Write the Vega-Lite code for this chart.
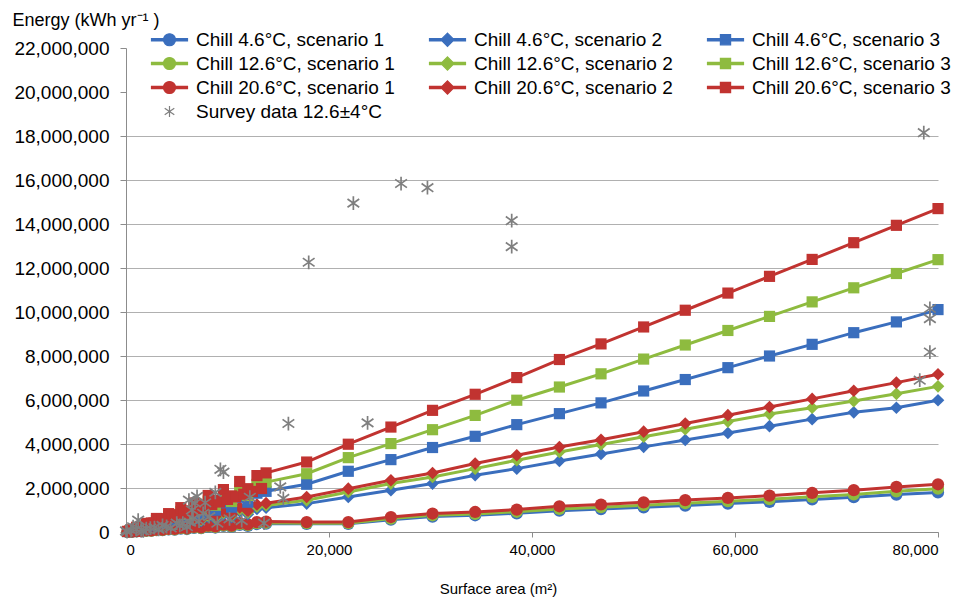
{
  "$schema": "https://vega.github.io/schema/vega-lite/v6.json",
  "width": 812,
  "height": 484,
  "autosize": {"type": "none"},
  "padding": {"left": 126, "top": 48, "right": 33, "bottom": 68},
  "background": "white",
  "config": {
    "view": {"stroke": null},
    "font": "Liberation Sans"
  },
  "datasets": {
    "curves": [
      {"s":"Chill 4.6°C, scenario 1","x":150,"y":3915},{"s":"Chill 4.6°C, scenario 1","x":600,"y":13920},{"s":"Chill 4.6°C, scenario 1","x":1050,"y":30450},{"s":"Chill 4.6°C, scenario 1","x":1500,"y":33930},{"s":"Chill 4.6°C, scenario 1","x":2000,"y":55100},{"s":"Chill 4.6°C, scenario 1","x":2500,"y":58000},{"s":"Chill 4.6°C, scenario 1","x":3000,"y":87000},{"s":"Chill 4.6°C, scenario 1","x":3600,"y":85608},{"s":"Chill 4.6°C, scenario 1","x":4200,"y":118146},{"s":"Chill 4.6°C, scenario 1","x":4800,"y":111360},{"s":"Chill 4.6°C, scenario 1","x":5400,"y":156600},{"s":"Chill 4.6°C, scenario 1","x":6000,"y":135720},{"s":"Chill 4.6°C, scenario 1","x":6700,"y":186528},{"s":"Chill 4.6°C, scenario 1","x":7400,"y":171680},{"s":"Chill 4.6°C, scenario 1","x":8100,"y":234900},{"s":"Chill 4.6°C, scenario 1","x":8800,"y":204160},{"s":"Chill 4.6°C, scenario 1","x":9600,"y":272832},{"s":"Chill 4.6°C, scenario 1","x":10400,"y":232232},{"s":"Chill 4.6°C, scenario 1","x":11200,"y":324800},{"s":"Chill 4.6°C, scenario 1","x":12000,"y":278400},{"s":"Chill 4.6°C, scenario 1","x":12900,"y":362877},{"s":"Chill 4.6°C, scenario 1","x":13800,"y":380190},
      {"s":"Chill 4.6°C, scenario 1","x":17800,"y":370000},{"s":"Chill 4.6°C, scenario 1","x":21900,"y":370000},{"s":"Chill 4.6°C, scenario 1","x":26100,"y":560000},{"s":"Chill 4.6°C, scenario 1","x":30200,"y":700000},{"s":"Chill 4.6°C, scenario 1","x":34400,"y":760000},{"s":"Chill 4.6°C, scenario 1","x":38500,"y":850000},{"s":"Chill 4.6°C, scenario 1","x":42700,"y":970000},{"s":"Chill 4.6°C, scenario 1","x":46800,"y":1040000},{"s":"Chill 4.6°C, scenario 1","x":51000,"y":1120000},{"s":"Chill 4.6°C, scenario 1","x":55100,"y":1200000},{"s":"Chill 4.6°C, scenario 1","x":59300,"y":1290000},{"s":"Chill 4.6°C, scenario 1","x":63400,"y":1370000},{"s":"Chill 4.6°C, scenario 1","x":67600,"y":1480000},{"s":"Chill 4.6°C, scenario 1","x":71700,"y":1580000},{"s":"Chill 4.6°C, scenario 1","x":75900,"y":1700000},{"s":"Chill 4.6°C, scenario 1","x":80000,"y":1800000},

      {"s":"Chill 12.6°C, scenario 1","x":150,"y":4320},{"s":"Chill 12.6°C, scenario 1","x":600,"y":15360},{"s":"Chill 12.6°C, scenario 1","x":1050,"y":33600},{"s":"Chill 12.6°C, scenario 1","x":1500,"y":37440},{"s":"Chill 12.6°C, scenario 1","x":2000,"y":60800},{"s":"Chill 12.6°C, scenario 1","x":2500,"y":64000},{"s":"Chill 12.6°C, scenario 1","x":3000,"y":96000},{"s":"Chill 12.6°C, scenario 1","x":3600,"y":94464},{"s":"Chill 12.6°C, scenario 1","x":4200,"y":130368},{"s":"Chill 12.6°C, scenario 1","x":4800,"y":122880},{"s":"Chill 12.6°C, scenario 1","x":5400,"y":172800},{"s":"Chill 12.6°C, scenario 1","x":6000,"y":149760},{"s":"Chill 12.6°C, scenario 1","x":6700,"y":205824},{"s":"Chill 12.6°C, scenario 1","x":7400,"y":189440},{"s":"Chill 12.6°C, scenario 1","x":8100,"y":259200},{"s":"Chill 12.6°C, scenario 1","x":8800,"y":225280},{"s":"Chill 12.6°C, scenario 1","x":9600,"y":301056},{"s":"Chill 12.6°C, scenario 1","x":10400,"y":256256},{"s":"Chill 12.6°C, scenario 1","x":11200,"y":358400},{"s":"Chill 12.6°C, scenario 1","x":12000,"y":307200},{"s":"Chill 12.6°C, scenario 1","x":12900,"y":400416},{"s":"Chill 12.6°C, scenario 1","x":13800,"y":419520},
      {"s":"Chill 12.6°C, scenario 1","x":17800,"y":400000},{"s":"Chill 12.6°C, scenario 1","x":21900,"y":400000},{"s":"Chill 12.6°C, scenario 1","x":26100,"y":610000},{"s":"Chill 12.6°C, scenario 1","x":30200,"y":760000},{"s":"Chill 12.6°C, scenario 1","x":34400,"y":820000},{"s":"Chill 12.6°C, scenario 1","x":38500,"y":920000},{"s":"Chill 12.6°C, scenario 1","x":42700,"y":1050000},{"s":"Chill 12.6°C, scenario 1","x":46800,"y":1130000},{"s":"Chill 12.6°C, scenario 1","x":51000,"y":1220000},{"s":"Chill 12.6°C, scenario 1","x":55100,"y":1310000},{"s":"Chill 12.6°C, scenario 1","x":59300,"y":1400000},{"s":"Chill 12.6°C, scenario 1","x":63400,"y":1490000},{"s":"Chill 12.6°C, scenario 1","x":67600,"y":1600000},{"s":"Chill 12.6°C, scenario 1","x":71700,"y":1710000},{"s":"Chill 12.6°C, scenario 1","x":75900,"y":1850000},{"s":"Chill 12.6°C, scenario 1","x":80000,"y":1970000},

      {"s":"Chill 20.6°C, scenario 1","x":150,"y":4860},{"s":"Chill 20.6°C, scenario 1","x":600,"y":17280},{"s":"Chill 20.6°C, scenario 1","x":1050,"y":37800},{"s":"Chill 20.6°C, scenario 1","x":1500,"y":42120},{"s":"Chill 20.6°C, scenario 1","x":2000,"y":68400},{"s":"Chill 20.6°C, scenario 1","x":2500,"y":72000},{"s":"Chill 20.6°C, scenario 1","x":3000,"y":108000},{"s":"Chill 20.6°C, scenario 1","x":3600,"y":106272},{"s":"Chill 20.6°C, scenario 1","x":4200,"y":146664},{"s":"Chill 20.6°C, scenario 1","x":4800,"y":138240},{"s":"Chill 20.6°C, scenario 1","x":5400,"y":194400},{"s":"Chill 20.6°C, scenario 1","x":6000,"y":168480},{"s":"Chill 20.6°C, scenario 1","x":6700,"y":231552},{"s":"Chill 20.6°C, scenario 1","x":7400,"y":213120},{"s":"Chill 20.6°C, scenario 1","x":8100,"y":291600},{"s":"Chill 20.6°C, scenario 1","x":8800,"y":253440},{"s":"Chill 20.6°C, scenario 1","x":9600,"y":338688},{"s":"Chill 20.6°C, scenario 1","x":10400,"y":288288},{"s":"Chill 20.6°C, scenario 1","x":11200,"y":403200},{"s":"Chill 20.6°C, scenario 1","x":12000,"y":345600},{"s":"Chill 20.6°C, scenario 1","x":12900,"y":450468},{"s":"Chill 20.6°C, scenario 1","x":13800,"y":471960},
      {"s":"Chill 20.6°C, scenario 1","x":17800,"y":450000},{"s":"Chill 20.6°C, scenario 1","x":21900,"y":450000},{"s":"Chill 20.6°C, scenario 1","x":26100,"y":680000},{"s":"Chill 20.6°C, scenario 1","x":30200,"y":840000},{"s":"Chill 20.6°C, scenario 1","x":34400,"y":910000},{"s":"Chill 20.6°C, scenario 1","x":38500,"y":1020000},{"s":"Chill 20.6°C, scenario 1","x":42700,"y":1170000},{"s":"Chill 20.6°C, scenario 1","x":46800,"y":1250000},{"s":"Chill 20.6°C, scenario 1","x":51000,"y":1350000},{"s":"Chill 20.6°C, scenario 1","x":55100,"y":1450000},{"s":"Chill 20.6°C, scenario 1","x":59300,"y":1550000},{"s":"Chill 20.6°C, scenario 1","x":63400,"y":1650000},{"s":"Chill 20.6°C, scenario 1","x":67600,"y":1780000},{"s":"Chill 20.6°C, scenario 1","x":71700,"y":1900000},{"s":"Chill 20.6°C, scenario 1","x":75900,"y":2050000},{"s":"Chill 20.6°C, scenario 1","x":80000,"y":2170000},

      {"s":"Chill 4.6°C, scenario 2","x":150,"y":11340},{"s":"Chill 4.6°C, scenario 2","x":600,"y":40320},{"s":"Chill 4.6°C, scenario 2","x":1050,"y":88200},{"s":"Chill 4.6°C, scenario 2","x":1500,"y":98280},{"s":"Chill 4.6°C, scenario 2","x":2000,"y":159600},{"s":"Chill 4.6°C, scenario 2","x":2500,"y":168000},{"s":"Chill 4.6°C, scenario 2","x":3000,"y":252000},{"s":"Chill 4.6°C, scenario 2","x":3600,"y":247968},{"s":"Chill 4.6°C, scenario 2","x":4200,"y":342216},{"s":"Chill 4.6°C, scenario 2","x":4800,"y":322560},{"s":"Chill 4.6°C, scenario 2","x":5400,"y":453600},{"s":"Chill 4.6°C, scenario 2","x":6000,"y":393120},{"s":"Chill 4.6°C, scenario 2","x":6700,"y":540288},{"s":"Chill 4.6°C, scenario 2","x":7400,"y":497280},{"s":"Chill 4.6°C, scenario 2","x":8100,"y":680400},{"s":"Chill 4.6°C, scenario 2","x":8800,"y":591360},{"s":"Chill 4.6°C, scenario 2","x":9600,"y":790272},{"s":"Chill 4.6°C, scenario 2","x":10400,"y":672672},{"s":"Chill 4.6°C, scenario 2","x":11200,"y":940800},{"s":"Chill 4.6°C, scenario 2","x":12000,"y":806400},{"s":"Chill 4.6°C, scenario 2","x":12900,"y":1051092},{"s":"Chill 4.6°C, scenario 2","x":13800,"y":1101240},
      {"s":"Chill 4.6°C, scenario 2","x":17800,"y":1290000},{"s":"Chill 4.6°C, scenario 2","x":21900,"y":1590000},{"s":"Chill 4.6°C, scenario 2","x":26100,"y":1900000},{"s":"Chill 4.6°C, scenario 2","x":30200,"y":2200000},{"s":"Chill 4.6°C, scenario 2","x":34400,"y":2580000},{"s":"Chill 4.6°C, scenario 2","x":38500,"y":2880000},{"s":"Chill 4.6°C, scenario 2","x":42700,"y":3230000},{"s":"Chill 4.6°C, scenario 2","x":46800,"y":3550000},{"s":"Chill 4.6°C, scenario 2","x":51000,"y":3870000},{"s":"Chill 4.6°C, scenario 2","x":55100,"y":4180000},{"s":"Chill 4.6°C, scenario 2","x":59300,"y":4500000},{"s":"Chill 4.6°C, scenario 2","x":63400,"y":4810000},{"s":"Chill 4.6°C, scenario 2","x":67600,"y":5130000},{"s":"Chill 4.6°C, scenario 2","x":71700,"y":5440000},{"s":"Chill 4.6°C, scenario 2","x":75900,"y":5650000},{"s":"Chill 4.6°C, scenario 2","x":80000,"y":5990000},

      {"s":"Chill 12.6°C, scenario 2","x":150,"y":12420},{"s":"Chill 12.6°C, scenario 2","x":600,"y":44160},{"s":"Chill 12.6°C, scenario 2","x":1050,"y":96600},{"s":"Chill 12.6°C, scenario 2","x":1500,"y":107640},{"s":"Chill 12.6°C, scenario 2","x":2000,"y":174800},{"s":"Chill 12.6°C, scenario 2","x":2500,"y":184000},{"s":"Chill 12.6°C, scenario 2","x":3000,"y":276000},{"s":"Chill 12.6°C, scenario 2","x":3600,"y":271584},{"s":"Chill 12.6°C, scenario 2","x":4200,"y":374808},{"s":"Chill 12.6°C, scenario 2","x":4800,"y":353280},{"s":"Chill 12.6°C, scenario 2","x":5400,"y":496800},{"s":"Chill 12.6°C, scenario 2","x":6000,"y":430560},{"s":"Chill 12.6°C, scenario 2","x":6700,"y":591744},{"s":"Chill 12.6°C, scenario 2","x":7400,"y":544640},{"s":"Chill 12.6°C, scenario 2","x":8100,"y":745200},{"s":"Chill 12.6°C, scenario 2","x":8800,"y":647680},{"s":"Chill 12.6°C, scenario 2","x":9600,"y":865536},{"s":"Chill 12.6°C, scenario 2","x":10400,"y":736736},{"s":"Chill 12.6°C, scenario 2","x":11200,"y":1030400},{"s":"Chill 12.6°C, scenario 2","x":12000,"y":883200},{"s":"Chill 12.6°C, scenario 2","x":12900,"y":1151196},{"s":"Chill 12.6°C, scenario 2","x":13800,"y":1206120},
      {"s":"Chill 12.6°C, scenario 2","x":17800,"y":1440000},{"s":"Chill 12.6°C, scenario 2","x":21900,"y":1820000},{"s":"Chill 12.6°C, scenario 2","x":26100,"y":2200000},{"s":"Chill 12.6°C, scenario 2","x":30200,"y":2500000},{"s":"Chill 12.6°C, scenario 2","x":34400,"y":2880000},{"s":"Chill 12.6°C, scenario 2","x":38500,"y":3260000},{"s":"Chill 12.6°C, scenario 2","x":42700,"y":3640000},{"s":"Chill 12.6°C, scenario 2","x":46800,"y":3980000},{"s":"Chill 12.6°C, scenario 2","x":51000,"y":4330000},{"s":"Chill 12.6°C, scenario 2","x":55100,"y":4670000},{"s":"Chill 12.6°C, scenario 2","x":59300,"y":5020000},{"s":"Chill 12.6°C, scenario 2","x":63400,"y":5360000},{"s":"Chill 12.6°C, scenario 2","x":67600,"y":5650000},{"s":"Chill 12.6°C, scenario 2","x":71700,"y":5950000},{"s":"Chill 12.6°C, scenario 2","x":75900,"y":6280000},{"s":"Chill 12.6°C, scenario 2","x":80000,"y":6620000},

      {"s":"Chill 20.6°C, scenario 2","x":150,"y":13500},{"s":"Chill 20.6°C, scenario 2","x":600,"y":48000},{"s":"Chill 20.6°C, scenario 2","x":1050,"y":105000},{"s":"Chill 20.6°C, scenario 2","x":1500,"y":117000},{"s":"Chill 20.6°C, scenario 2","x":2000,"y":190000},{"s":"Chill 20.6°C, scenario 2","x":2500,"y":200000},{"s":"Chill 20.6°C, scenario 2","x":3000,"y":300000},{"s":"Chill 20.6°C, scenario 2","x":3600,"y":295200},{"s":"Chill 20.6°C, scenario 2","x":4200,"y":407400},{"s":"Chill 20.6°C, scenario 2","x":4800,"y":384000},{"s":"Chill 20.6°C, scenario 2","x":5400,"y":540000},{"s":"Chill 20.6°C, scenario 2","x":6000,"y":468000},{"s":"Chill 20.6°C, scenario 2","x":6700,"y":643200},{"s":"Chill 20.6°C, scenario 2","x":7400,"y":592000},{"s":"Chill 20.6°C, scenario 2","x":8100,"y":810000},{"s":"Chill 20.6°C, scenario 2","x":8800,"y":704000},{"s":"Chill 20.6°C, scenario 2","x":9600,"y":940800},{"s":"Chill 20.6°C, scenario 2","x":10400,"y":800800},{"s":"Chill 20.6°C, scenario 2","x":11200,"y":1120000},{"s":"Chill 20.6°C, scenario 2","x":12000,"y":960000},{"s":"Chill 20.6°C, scenario 2","x":12900,"y":1251300},{"s":"Chill 20.6°C, scenario 2","x":13800,"y":1311000},
      {"s":"Chill 20.6°C, scenario 2","x":17800,"y":1590000},{"s":"Chill 20.6°C, scenario 2","x":21900,"y":1970000},{"s":"Chill 20.6°C, scenario 2","x":26100,"y":2350000},{"s":"Chill 20.6°C, scenario 2","x":30200,"y":2680000},{"s":"Chill 20.6°C, scenario 2","x":34400,"y":3110000},{"s":"Chill 20.6°C, scenario 2","x":38500,"y":3490000},{"s":"Chill 20.6°C, scenario 2","x":42700,"y":3860000},{"s":"Chill 20.6°C, scenario 2","x":46800,"y":4190000},{"s":"Chill 20.6°C, scenario 2","x":51000,"y":4560000},{"s":"Chill 20.6°C, scenario 2","x":55100,"y":4930000},{"s":"Chill 20.6°C, scenario 2","x":59300,"y":5310000},{"s":"Chill 20.6°C, scenario 2","x":63400,"y":5680000},{"s":"Chill 20.6°C, scenario 2","x":67600,"y":6050000},{"s":"Chill 20.6°C, scenario 2","x":71700,"y":6420000},{"s":"Chill 20.6°C, scenario 2","x":75900,"y":6790000},{"s":"Chill 20.6°C, scenario 2","x":80000,"y":7170000},

      {"s":"Chill 4.6°C, scenario 3","x":150,"y":19035},{"s":"Chill 4.6°C, scenario 3","x":600,"y":67680},{"s":"Chill 4.6°C, scenario 3","x":1050,"y":148050},{"s":"Chill 4.6°C, scenario 3","x":1500,"y":164970},{"s":"Chill 4.6°C, scenario 3","x":2000,"y":267900},{"s":"Chill 4.6°C, scenario 3","x":2500,"y":282000},{"s":"Chill 4.6°C, scenario 3","x":3000,"y":423000},{"s":"Chill 4.6°C, scenario 3","x":3600,"y":416232},{"s":"Chill 4.6°C, scenario 3","x":4200,"y":574434},{"s":"Chill 4.6°C, scenario 3","x":4800,"y":541440},{"s":"Chill 4.6°C, scenario 3","x":5400,"y":761400},{"s":"Chill 4.6°C, scenario 3","x":6000,"y":659880},{"s":"Chill 4.6°C, scenario 3","x":6700,"y":906912},{"s":"Chill 4.6°C, scenario 3","x":7400,"y":834720},{"s":"Chill 4.6°C, scenario 3","x":8100,"y":1142100},{"s":"Chill 4.6°C, scenario 3","x":8800,"y":992640},{"s":"Chill 4.6°C, scenario 3","x":9600,"y":1326528},{"s":"Chill 4.6°C, scenario 3","x":10400,"y":1129128},{"s":"Chill 4.6°C, scenario 3","x":11200,"y":1579200},{"s":"Chill 4.6°C, scenario 3","x":12000,"y":1353600},{"s":"Chill 4.6°C, scenario 3","x":12900,"y":1764333},{"s":"Chill 4.6°C, scenario 3","x":13800,"y":1848510},
      {"s":"Chill 4.6°C, scenario 3","x":17800,"y":2170000},{"s":"Chill 4.6°C, scenario 3","x":21900,"y":2760000},{"s":"Chill 4.6°C, scenario 3","x":26100,"y":3290000},{"s":"Chill 4.6°C, scenario 3","x":30200,"y":3840000},{"s":"Chill 4.6°C, scenario 3","x":34400,"y":4350000},{"s":"Chill 4.6°C, scenario 3","x":38500,"y":4880000},{"s":"Chill 4.6°C, scenario 3","x":42700,"y":5380000},{"s":"Chill 4.6°C, scenario 3","x":46800,"y":5870000},{"s":"Chill 4.6°C, scenario 3","x":51000,"y":6410000},{"s":"Chill 4.6°C, scenario 3","x":55100,"y":6930000},{"s":"Chill 4.6°C, scenario 3","x":59300,"y":7470000},{"s":"Chill 4.6°C, scenario 3","x":63400,"y":8000000},{"s":"Chill 4.6°C, scenario 3","x":67600,"y":8530000},{"s":"Chill 4.6°C, scenario 3","x":71700,"y":9060000},{"s":"Chill 4.6°C, scenario 3","x":75900,"y":9550000},{"s":"Chill 4.6°C, scenario 3","x":80000,"y":10110000},

      {"s":"Chill 12.6°C, scenario 3","x":150,"y":23355},{"s":"Chill 12.6°C, scenario 3","x":600,"y":83040},{"s":"Chill 12.6°C, scenario 3","x":1050,"y":181650},{"s":"Chill 12.6°C, scenario 3","x":1500,"y":202410},{"s":"Chill 12.6°C, scenario 3","x":2000,"y":328700},{"s":"Chill 12.6°C, scenario 3","x":2500,"y":346000},{"s":"Chill 12.6°C, scenario 3","x":3000,"y":519000},{"s":"Chill 12.6°C, scenario 3","x":3600,"y":510696},{"s":"Chill 12.6°C, scenario 3","x":4200,"y":704802},{"s":"Chill 12.6°C, scenario 3","x":4800,"y":664320},{"s":"Chill 12.6°C, scenario 3","x":5400,"y":934200},{"s":"Chill 12.6°C, scenario 3","x":6000,"y":809640},{"s":"Chill 12.6°C, scenario 3","x":6700,"y":1112736},{"s":"Chill 12.6°C, scenario 3","x":7400,"y":1024160},{"s":"Chill 12.6°C, scenario 3","x":8100,"y":1401300},{"s":"Chill 12.6°C, scenario 3","x":8800,"y":1217920},{"s":"Chill 12.6°C, scenario 3","x":9600,"y":1627584},{"s":"Chill 12.6°C, scenario 3","x":10400,"y":1385384},{"s":"Chill 12.6°C, scenario 3","x":11200,"y":1937600},{"s":"Chill 12.6°C, scenario 3","x":12000,"y":1660800},{"s":"Chill 12.6°C, scenario 3","x":12900,"y":2164749},{"s":"Chill 12.6°C, scenario 3","x":13800,"y":2268030},
      {"s":"Chill 12.6°C, scenario 3","x":17800,"y":2650000},{"s":"Chill 12.6°C, scenario 3","x":21900,"y":3380000},{"s":"Chill 12.6°C, scenario 3","x":26100,"y":4020000},{"s":"Chill 12.6°C, scenario 3","x":30200,"y":4650000},{"s":"Chill 12.6°C, scenario 3","x":34400,"y":5300000},{"s":"Chill 12.6°C, scenario 3","x":38500,"y":5990000},{"s":"Chill 12.6°C, scenario 3","x":42700,"y":6590000},{"s":"Chill 12.6°C, scenario 3","x":46800,"y":7190000},{"s":"Chill 12.6°C, scenario 3","x":51000,"y":7860000},{"s":"Chill 12.6°C, scenario 3","x":55100,"y":8500000},{"s":"Chill 12.6°C, scenario 3","x":59300,"y":9160000},{"s":"Chill 12.6°C, scenario 3","x":63400,"y":9800000},{"s":"Chill 12.6°C, scenario 3","x":67600,"y":10460000},{"s":"Chill 12.6°C, scenario 3","x":71700,"y":11100000},{"s":"Chill 12.6°C, scenario 3","x":75900,"y":11750000},{"s":"Chill 12.6°C, scenario 3","x":80000,"y":12380000},

      {"s":"Chill 20.6°C, scenario 3","x":150,"y":27675},{"s":"Chill 20.6°C, scenario 3","x":375,"y":55500},{"s":"Chill 20.6°C, scenario 3","x":600,"y":98400},{"s":"Chill 20.6°C, scenario 3","x":825,"y":122100},{"s":"Chill 20.6°C, scenario 3","x":1050,"y":215250},{"s":"Chill 20.6°C, scenario 3","x":1275,"y":188700},{"s":"Chill 20.6°C, scenario 3","x":1500,"y":239850},{"s":"Chill 20.6°C, scenario 3","x":1750,"y":259000},{"s":"Chill 20.6°C, scenario 3","x":2000,"y":389500},{"s":"Chill 20.6°C, scenario 3","x":2250,"y":333000},{"s":"Chill 20.6°C, scenario 3","x":2500,"y":410000},{"s":"Chill 20.6°C, scenario 3","x":2750,"y":407000},{"s":"Chill 20.6°C, scenario 3","x":3000,"y":615000},{"s":"Chill 20.6°C, scenario 3","x":3300,"y":488400},{"s":"Chill 20.6°C, scenario 3","x":3600,"y":605160},{"s":"Chill 20.6°C, scenario 3","x":3900,"y":577200},{"s":"Chill 20.6°C, scenario 3","x":4200,"y":835170},{"s":"Chill 20.6°C, scenario 3","x":4500,"y":666000},{"s":"Chill 20.6°C, scenario 3","x":4800,"y":787200},{"s":"Chill 20.6°C, scenario 3","x":5100,"y":754800},{"s":"Chill 20.6°C, scenario 3","x":5400,"y":1107000},{"s":"Chill 20.6°C, scenario 3","x":5700,"y":843600},{"s":"Chill 20.6°C, scenario 3","x":6000,"y":959400},{"s":"Chill 20.6°C, scenario 3","x":6350,"y":939800},{"s":"Chill 20.6°C, scenario 3","x":6700,"y":1318560},{"s":"Chill 20.6°C, scenario 3","x":7050,"y":1043400},{"s":"Chill 20.6°C, scenario 3","x":7400,"y":1213600},{"s":"Chill 20.6°C, scenario 3","x":7750,"y":1147000},{"s":"Chill 20.6°C, scenario 3","x":8100,"y":1660500},{"s":"Chill 20.6°C, scenario 3","x":8450,"y":1250600},{"s":"Chill 20.6°C, scenario 3","x":8800,"y":1443200},{"s":"Chill 20.6°C, scenario 3","x":9200,"y":1361600},{"s":"Chill 20.6°C, scenario 3","x":9600,"y":1928640},{"s":"Chill 20.6°C, scenario 3","x":10000,"y":1480000},{"s":"Chill 20.6°C, scenario 3","x":10400,"y":1641640},{"s":"Chill 20.6°C, scenario 3","x":10800,"y":1598400},{"s":"Chill 20.6°C, scenario 3","x":11200,"y":2296000},{"s":"Chill 20.6°C, scenario 3","x":11600,"y":1716800},{"s":"Chill 20.6°C, scenario 3","x":12000,"y":1968000},{"s":"Chill 20.6°C, scenario 3","x":12450,"y":1842600},{"s":"Chill 20.6°C, scenario 3","x":12900,"y":2565165},{"s":"Chill 20.6°C, scenario 3","x":13350,"y":1975800},{"s":"Chill 20.6°C, scenario 3","x":13800,"y":2687550},
      {"s":"Chill 20.6°C, scenario 3","x":17800,"y":3180000},{"s":"Chill 20.6°C, scenario 3","x":21900,"y":3990000},{"s":"Chill 20.6°C, scenario 3","x":26100,"y":4770000},{"s":"Chill 20.6°C, scenario 3","x":30200,"y":5530000},{"s":"Chill 20.6°C, scenario 3","x":34400,"y":6260000},{"s":"Chill 20.6°C, scenario 3","x":38500,"y":7020000},{"s":"Chill 20.6°C, scenario 3","x":42700,"y":7840000},{"s":"Chill 20.6°C, scenario 3","x":46800,"y":8550000},{"s":"Chill 20.6°C, scenario 3","x":51000,"y":9320000},{"s":"Chill 20.6°C, scenario 3","x":55100,"y":10080000},{"s":"Chill 20.6°C, scenario 3","x":59300,"y":10860000},{"s":"Chill 20.6°C, scenario 3","x":63400,"y":11620000},{"s":"Chill 20.6°C, scenario 3","x":67600,"y":12390000},{"s":"Chill 20.6°C, scenario 3","x":71700,"y":13150000},{"s":"Chill 20.6°C, scenario 3","x":75900,"y":13940000},{"s":"Chill 20.6°C, scenario 3","x":80000,"y":14700000}
    ],
    "survey": [
      {"s":"Survey data 12.6±4°C","x":0,"y":50000},{"s":"Survey data 12.6±4°C","x":100,"y":20000},{"s":"Survey data 12.6±4°C","x":500,"y":80000},{"s":"Survey data 12.6±4°C","x":700,"y":240000},{"s":"Survey data 12.6±4°C","x":1000,"y":120000},{"s":"Survey data 12.6±4°C","x":1200,"y":540000},{"s":"Survey data 12.6±4°C","x":1500,"y":100000},{"s":"Survey data 12.6±4°C","x":1700,"y":50000},{"s":"Survey data 12.6±4°C","x":2000,"y":150000},{"s":"Survey data 12.6±4°C","x":2400,"y":180000},{"s":"Survey data 12.6±4°C","x":2800,"y":200000},{"s":"Survey data 12.6±4°C","x":3200,"y":120000},{"s":"Survey data 12.6±4°C","x":3600,"y":300000},{"s":"Survey data 12.6±4°C","x":4000,"y":250000},{"s":"Survey data 12.6±4°C","x":4400,"y":180000},{"s":"Survey data 12.6±4°C","x":5000,"y":400000},{"s":"Survey data 12.6±4°C","x":5300,"y":300000},{"s":"Survey data 12.6±4°C","x":5600,"y":400000},{"s":"Survey data 12.6±4°C","x":6000,"y":240000},{"s":"Survey data 12.6±4°C","x":6200,"y":1450000},{"s":"Survey data 12.6±4°C","x":6300,"y":450000},{"s":"Survey data 12.6±4°C","x":6500,"y":1000000},{"s":"Survey data 12.6±4°C","x":6600,"y":600000},{"s":"Survey data 12.6±4°C","x":6800,"y":1320000},{"s":"Survey data 12.6±4°C","x":7000,"y":1620000},{"s":"Survey data 12.6±4°C","x":7200,"y":500000},{"s":"Survey data 12.6±4°C","x":7600,"y":850000},{"s":"Survey data 12.6±4°C","x":7800,"y":1330000},{"s":"Survey data 12.6±4°C","x":8200,"y":700000},{"s":"Survey data 12.6±4°C","x":8800,"y":1800000},{"s":"Survey data 12.6±4°C","x":9000,"y":400000},{"s":"Survey data 12.6±4°C","x":9300,"y":2850000},{"s":"Survey data 12.6±4°C","x":9600,"y":2720000},{"s":"Survey data 12.6±4°C","x":10200,"y":600000},{"s":"Survey data 12.6±4°C","x":11400,"y":520000},{"s":"Survey data 12.6±4°C","x":12200,"y":1580000},{"s":"Survey data 12.6±4°C","x":13600,"y":400000},{"s":"Survey data 12.6±4°C","x":15200,"y":2050000},{"s":"Survey data 12.6±4°C","x":15500,"y":1530000},{"s":"Survey data 12.6±4°C","x":16000,"y":4930000},{"s":"Survey data 12.6±4°C","x":18000,"y":12260000},{"s":"Survey data 12.6±4°C","x":22400,"y":14950000},{"s":"Survey data 12.6±4°C","x":23800,"y":4960000},{"s":"Survey data 12.6±4°C","x":27100,"y":15840000},{"s":"Survey data 12.6±4°C","x":29700,"y":15650000},{"s":"Survey data 12.6±4°C","x":38000,"y":14150000},{"s":"Survey data 12.6±4°C","x":38000,"y":12970000},{"s":"Survey data 12.6±4°C","x":78200,"y":6900000},{"s":"Survey data 12.6±4°C","x":78600,"y":18150000},{"s":"Survey data 12.6±4°C","x":79200,"y":10160000},{"s":"Survey data 12.6±4°C","x":79200,"y":9700000},{"s":"Survey data 12.6±4°C","x":79200,"y":8180000}
    ]
  },
  "encoding": {
    "x": {
      "field": "x", "type": "quantitative",
      "scale": {"domain": [0, 80000], "nice": false},
      "axis": {
        "values": [0, 20000, 40000, 60000, 80000], "format": ",d", "grid": false,
        "domainColor": "#8c8c8c", "tickColor": "#8c8c8c", "tickSize": 5,
        "labelFont": "Liberation Sans", "labelFontSize": 15, "labelColor": "#000000", "labelPadding": 5,
        "title": "Surface area (m²)", "titleFont": "Liberation Sans", "titleFontSize": 15, "titleFontWeight": "normal", "titleColor": "#000000",
        "titleX": 372, "titleY": 56, "titleAlign": "center", "titleBaseline": "middle"
      }
    },
    "y": {
      "field": "y", "type": "quantitative",
      "scale": {"domain": [0, 22000000], "nice": false},
      "axis": {
        "values": [0, 2000000, 4000000, 6000000, 8000000, 10000000, 12000000, 14000000, 16000000, 18000000, 20000000, 22000000],
        "format": ",d", "grid": true, "gridColor": "#b0b0b0", "gridWidth": 1,
        "gridOpacity": {"condition": {"test": "datum.value >= 19000000", "value": 0}, "value": 1},
        "domainColor": "#8c8c8c", "tickColor": "#8c8c8c", "tickSize": 6,
        "labelFont": "Liberation Sans", "labelFontSize": 19, "labelColor": "#000000", "labelPadding": 11,
        "title": "Energy (kWh yr⁻¹ )", "titleFont": "Liberation Sans", "titleFontSize": 18, "titleFontWeight": "normal", "titleColor": "#000000",
        "titleAngle": 0, "titleAlign": "left", "titleBaseline": "alphabetic", "titleX": -114, "titleY": -23
      }
    },
    "color": {
      "field": "s", "type": "nominal",
      "scale": {
        "domain": ["Chill 4.6°C, scenario 1", "Chill 4.6°C, scenario 2", "Chill 4.6°C, scenario 3", "Chill 12.6°C, scenario 1", "Chill 12.6°C, scenario 2", "Chill 12.6°C, scenario 3", "Chill 20.6°C, scenario 1", "Chill 20.6°C, scenario 2", "Chill 20.6°C, scenario 3", "Survey data 12.6±4°C"],
        "range": ["#3a6ebd", "#3a6ebd", "#3a6ebd", "#8ebb3f", "#8ebb3f", "#8ebb3f", "#c13330", "#c13330", "#c13330", "#7f7f7f"]
      },
      "legend": {
        "orient": "none", "direction": "horizontal", "legendX": 34, "legendY": -18, "columns": 3, "title": null,
        "symbolSize": 144, "labelFont": "Liberation Sans", "labelFontSize": 19, "labelColor": "#000000",
        "labelOffset": 17, "columnPadding": 32, "rowPadding": 4, "labelLimit": 400, "padding": 0,
        "encode": {
          "symbols": {
            "update": {
              "shape": {"signal": "indexof(datum.value,'Survey')>=0 ? 'M0,-0.9V0.9M-0.8,-0.55L0.8,0.55M-0.8,0.55L0.8,-0.55' : indexof(datum.value,'scenario 1')>=0 ? 'M-3,-0.2H3V0.2H-3ZM-1,0A1,1 0 1,1 1,0A1,1 0 1,1 -1,0Z' : indexof(datum.value,'scenario 2')>=0 ? 'M-3,-0.2H3V0.2H-3ZM0,-1.1L1.1,0L0,1.1L-1.1,0Z' : 'M-3,-0.2H3V0.2H-3ZM-0.85,-0.85H0.85V0.85H-0.85Z'"},
              "strokeWidth": {"value": 1.2},
              "size": {"value": 144},
              "opacity": {"value": 1}
            }
          }
        }
      }
    }
  },
  "layer": [
    {
      "data": {"name": "curves"},
      "mark": {"type": "line", "strokeWidth": 3},
      "encoding": {"order": {"field": "x", "type": "quantitative"}}
    },
    {
      "data": {"name": "curves"},
      "transform": [{"filter": "indexof(datum.s, 'scenario 1') >= 0"}],
      "mark": {"type": "point", "shape": "circle", "filled": true, "opacity": 1, "size": 150}
    },
    {
      "data": {"name": "curves"},
      "transform": [{"filter": "indexof(datum.s, 'scenario 2') >= 0"}],
      "mark": {"type": "point", "shape": "diamond", "filled": true, "opacity": 1, "size": 160}
    },
    {
      "data": {"name": "curves"},
      "transform": [{"filter": "indexof(datum.s, 'scenario 3') >= 0"}],
      "mark": {"type": "point", "shape": "square", "filled": true, "opacity": 1, "size": 125}
    },
    {
      "data": {"name": "survey"},
      "mark": {"type": "point", "shape": "M0,-1V1M-0.85,-0.6L0.85,0.6M-0.85,0.6L0.85,-0.6", "filled": false, "opacity": 1, "size": 190, "strokeWidth": 1.7}
    }
  ]
}
